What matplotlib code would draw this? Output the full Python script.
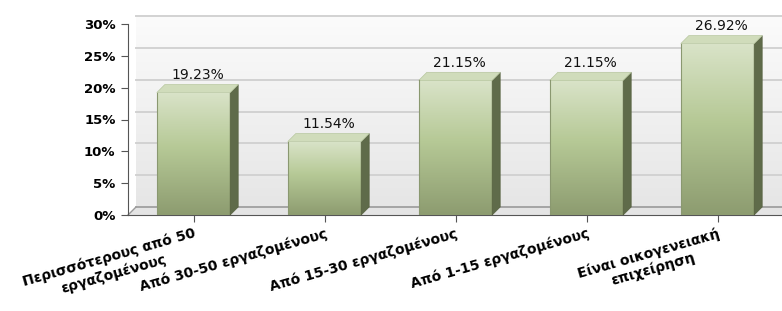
"""Bar chart (pseudo-3D) of company size shares, Greek labels."""

import numpy as np
import matplotlib

matplotlib.use("Agg")
import matplotlib.pyplot as plt
from matplotlib import transforms
from matplotlib.colors import LinearSegmentedColormap
from matplotlib.patches import Polygon

plt.rcParams["font.family"] = ["DejaVu Sans"]

categories = [
    "Περισσότερους από 50\nεργαζομένους",
    "Από 30-50 εργαζομένους",
    "Από 15-30 εργαζομένους",
    "Από 1-15 εργαζομένους",
    "Είναι οικογενειακή\nεπιχείρηση",
]
values = [19.23, 11.54, 21.15, 21.15, 26.92]
yticks = [0, 5, 10, 15, 20, 25, 30]

W, H = 782, 311
DEPTH = 8  # px
BAR_W = 0.56

fig = plt.figure(figsize=(W / 100, H / 100), dpi=100)
ax = fig.add_axes([128 / W, 96 / H, 655 / W, 191 / H])
ax.set_xlim(-0.5, 4.5)
ax.set_ylim(0, 30)

back = transforms.offset_copy(ax.transData, fig, x=DEPTH, y=DEPTH, units="dots")
# profondita' in unita' dati per le facce laterali/superiori
ddx = DEPTH * 5.0 / 655
ddy = DEPTH * 30.0 / 191

# parete di fondo con gradiente
wall = LinearSegmentedColormap.from_list("wall", ["#e6e6e6", "#fbfbfb"])
ax.imshow(np.linspace(0, 1, 100).reshape(-1, 1), cmap=wall, aspect="auto",
          extent=(-0.5, 4.6, 0, 30), origin="lower", transform=back,
          clip_on=False, zorder=0)
for t in yticks[1:]:
    ax.plot([-0.5, 4.6], [t, t], color="#d2d2d2", lw=1.4, transform=back,
            clip_on=False, zorder=1)
# pavimento
ax.add_patch(Polygon([(-0.5, 0), (4.6, 0), (4.6 + ddx, ddy), (-0.5 + ddx, ddy)],
                     closed=True, fc="#e4e4e4", ec="none", zorder=1, clip_on=False))
ax.plot([-0.5, 4.6], [0, 0], color="#9a9a9a", lw=1.2, transform=back,
        clip_on=False, zorder=1)
ax.plot([-0.5, -0.5 + ddx], [0, ddy], color="#9a9a9a", lw=1.0, clip_on=False, zorder=1)

x = np.arange(len(categories))
bars = ax.bar(x, values, width=BAR_W, color="none", zorder=3)

front = LinearSegmentedColormap.from_list(
    "front", [(0, "#8d9c70"), (0.55, "#b6c996"), (1, "#d9e3c8")])
for b, v in zip(bars, values):
    x0 = b.get_x()
    x1 = x0 + b.get_width()
    im = ax.imshow(np.linspace(0, 1, 100).reshape(-1, 1), cmap=front, aspect="auto",
                   extent=(x0, x1, 0, v), origin="lower", zorder=3)
    im.set_clip_path(b)
    # faccia laterale
    ax.add_patch(Polygon([(x1, 0), (x1 + ddx, ddy), (x1 + ddx, v + ddy), (x1, v)],
                         closed=True, fc="#5f6b4a", ec="#56613f", lw=0.5, zorder=3))
    # faccia superiore
    ax.add_patch(Polygon([(x0, v), (x1, v), (x1 + ddx, v + ddy), (x0 + ddx, v + ddy)],
                         closed=True, fc="#d0dcbb", ec="#b8c7a0", lw=0.5, zorder=3))
    ax.plot([x0, x0], [0, v], color="#8a9870", lw=0.8, zorder=4)
    ax.text(b.get_x() + b.get_width() / 2 + ddx / 2, v + ddy + 0.4, f"{v:.2f}%",
            ha="center", va="bottom", fontsize=10, color="#111111", zorder=5)

for s in ["top", "right"]:
    ax.spines[s].set_visible(False)
ax.spines["left"].set_color("#555555")
ax.spines["bottom"].set_color("#555555")
ax.spines["left"].set_zorder(6)

ax.set_yticks(yticks)
ax.set_yticklabels([f"{t}%" for t in yticks], fontsize=9.5, fontweight="bold")
ax.tick_params(axis="y", length=5, color="#555555", pad=4)
ax.set_xticks(x)
ax.set_xticklabels(categories, rotation=16, ha="right", va="top",
                   rotation_mode="anchor", fontsize=10, fontweight="bold",
                   multialignment="center")
ax.tick_params(axis="x", length=5, color="#555555", pad=3)

fig.savefig("out.png", dpi=100)
